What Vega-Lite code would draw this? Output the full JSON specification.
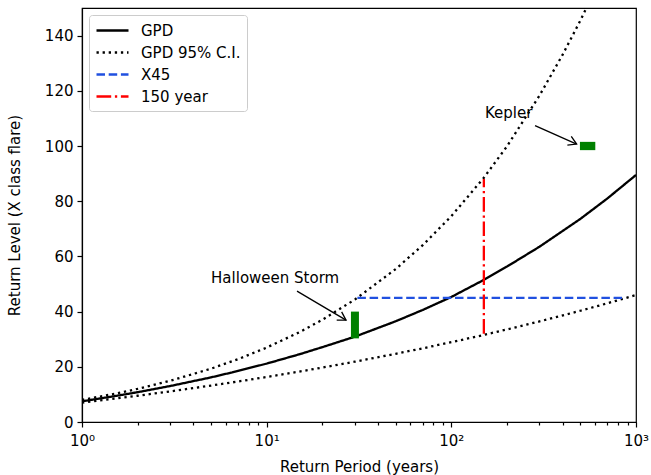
{
  "$schema": "https://vega.github.io/schema/vega-lite/v6.json",
  "width": 554,
  "height": 414,
  "autosize": {"type": "none"},
  "padding": {"left": 82, "top": 8, "right": 15, "bottom": 53},
  "config": {
    "font": "DejaVu Sans",
    "view": {"stroke": "black", "strokeWidth": 1.2},
    "axis": {"domainColor": "black", "tickColor": "black", "labelColor": "black", "titleColor": "black", "labelFont": "DejaVu Sans", "titleFont": "DejaVu Sans", "labelFontSize": 15, "titleFontSize": 15, "titleFontWeight": "normal", "grid": false, "domainWidth": 1.2, "tickWidth": 1.2}
  },
  "datasets": {
    "lines": [
      {"T": 1, "level": 7.5, "series": "GPD", "part": "gpd"},
      {"T": 1.5, "level": 9.36, "series": "GPD", "part": "gpd"},
      {"T": 2, "level": 10.8, "series": "GPD", "part": "gpd"},
      {"T": 3, "level": 13.03, "series": "GPD", "part": "gpd"},
      {"T": 5, "level": 16.17, "series": "GPD", "part": "gpd"},
      {"T": 7, "level": 18.49, "series": "GPD", "part": "gpd"},
      {"T": 10, "level": 21.16, "series": "GPD", "part": "gpd"},
      {"T": 15, "level": 24.51, "series": "GPD", "part": "gpd"},
      {"T": 20, "level": 27.11, "series": "GPD", "part": "gpd"},
      {"T": 30, "level": 30.9, "series": "GPD", "part": "gpd"},
      {"T": 50, "level": 36.5, "series": "GPD", "part": "gpd"},
      {"T": 70, "level": 40.6, "series": "GPD", "part": "gpd"},
      {"T": 100, "level": 45.3, "series": "GPD", "part": "gpd"},
      {"T": 150, "level": 51.5, "series": "GPD", "part": "gpd"},
      {"T": 200, "level": 56.3, "series": "GPD", "part": "gpd"},
      {"T": 300, "level": 63.5, "series": "GPD", "part": "gpd"},
      {"T": 500, "level": 73.6, "series": "GPD", "part": "gpd"},
      {"T": 700, "level": 81.0, "series": "GPD", "part": "gpd"},
      {"T": 1000, "level": 89.5, "series": "GPD", "part": "gpd"},
      {"T": 1, "level": 8, "series": "GPD 95% C.I.", "part": "upper"},
      {"T": 1.5, "level": 10.21, "series": "GPD 95% C.I.", "part": "upper"},
      {"T": 2, "level": 12.01, "series": "GPD 95% C.I.", "part": "upper"},
      {"T": 3, "level": 14.92, "series": "GPD 95% C.I.", "part": "upper"},
      {"T": 5, "level": 19.33, "series": "GPD 95% C.I.", "part": "upper"},
      {"T": 7, "level": 22.77, "series": "GPD 95% C.I.", "part": "upper"},
      {"T": 10, "level": 26.96, "series": "GPD 95% C.I.", "part": "upper"},
      {"T": 15, "level": 32.5, "series": "GPD 95% C.I.", "part": "upper"},
      {"T": 20, "level": 37.02, "series": "GPD 95% C.I.", "part": "upper"},
      {"T": 30, "level": 44.34, "series": "GPD 95% C.I.", "part": "upper"},
      {"T": 50, "level": 55.43, "series": "GPD 95% C.I.", "part": "upper"},
      {"T": 70, "level": 64.06, "series": "GPD 95% C.I.", "part": "upper"},
      {"T": 100, "level": 74.58, "series": "GPD 95% C.I.", "part": "upper"},
      {"T": 150, "level": 88.51, "series": "GPD 95% C.I.", "part": "upper"},
      {"T": 200, "level": 99.86, "series": "GPD 95% C.I.", "part": "upper"},
      {"T": 300, "level": 118.24, "series": "GPD 95% C.I.", "part": "upper"},
      {"T": 400, "level": 133.0, "series": "GPD 95% C.I.", "part": "upper"},
      {"T": 500, "level": 145.5, "series": "GPD 95% C.I.", "part": "upper"},
      {"T": 600, "level": 156.5, "series": "GPD 95% C.I.", "part": "upper"},
      {"T": 700, "level": 166.5, "series": "GPD 95% C.I.", "part": "upper"},
      {"T": 1, "level": 7.0, "series": "GPD 95% C.I.", "part": "lower"},
      {"T": 1.5, "level": 8.44, "series": "GPD 95% C.I.", "part": "lower"},
      {"T": 2, "level": 9.51, "series": "GPD 95% C.I.", "part": "lower"},
      {"T": 3, "level": 11.09, "series": "GPD 95% C.I.", "part": "lower"},
      {"T": 5, "level": 13.2, "series": "GPD 95% C.I.", "part": "lower"},
      {"T": 7, "level": 14.67, "series": "GPD 95% C.I.", "part": "lower"},
      {"T": 10, "level": 16.31, "series": "GPD 95% C.I.", "part": "lower"},
      {"T": 15, "level": 18.26, "series": "GPD 95% C.I.", "part": "lower"},
      {"T": 20, "level": 19.71, "series": "GPD 95% C.I.", "part": "lower"},
      {"T": 30, "level": 21.85, "series": "GPD 95% C.I.", "part": "lower"},
      {"T": 50, "level": 24.71, "series": "GPD 95% C.I.", "part": "lower"},
      {"T": 70, "level": 26.7, "series": "GPD 95% C.I.", "part": "lower"},
      {"T": 100, "level": 28.92, "series": "GPD 95% C.I.", "part": "lower"},
      {"T": 150, "level": 31.56, "series": "GPD 95% C.I.", "part": "lower"},
      {"T": 200, "level": 33.53, "series": "GPD 95% C.I.", "part": "lower"},
      {"T": 300, "level": 36.43, "series": "GPD 95% C.I.", "part": "lower"},
      {"T": 500, "level": 40.31, "series": "GPD 95% C.I.", "part": "lower"},
      {"T": 700, "level": 43.01, "series": "GPD 95% C.I.", "part": "lower"},
      {"T": 1000, "level": 46.01, "series": "GPD 95% C.I.", "part": "lower"},
      {"T": 31, "level": 45, "series": "X45", "part": "x45"},
      {"T": 840, "level": 45, "series": "X45", "part": "x45"},
      {"T": 150, "level": 32, "series": "150 year", "part": "y150"},
      {"T": 150.0001, "level": 88, "series": "150 year", "part": "y150"}
    ],
    "events": [
      {"name": "Halloween Storm", "T1": 28.6, "T2": 31.6, "lo": 30.3, "hi": 40},
      {"name": "Kepler", "T1": 497, "T2": 602, "lo": 98.5, "hi": 101.5}
    ],
    "arrows": [
      {"name": "Halloween Storm", "tx": 5.0, "ty": 52.1, "sx": 14.6, "sy": 47.4, "ex": 26.9, "ey": 36.9, "angle": 31},
      {"name": "Kepler", "tx": 152, "ty": 111.9, "sx": 284, "sy": 107.4, "ex": 477, "ey": 100.7, "angle": 24}
    ]
  },
  "layer": [
    {
      "data": {"name": "lines"},
      "mark": {"type": "line", "clip": true, "strokeWidth": 2.3, "strokeCap": "butt"},
      "encoding": {
        "x": {"field": "T", "type": "quantitative", "scale": {"type": "log", "domain": [1, 1000]},
          "axis": {"title": "Return Period (years)", "titlePadding": 11, "labelPadding": 6,
            "values": [1,2,3,4,5,6,7,8,9,10,20,30,40,50,60,70,80,90,100,200,300,400,500,600,700,800,900,1000],
            "labelExpr": "datum.value == 1 ? '10⁰' : datum.value == 10 ? '10¹' : datum.value == 100 ? '10²' : datum.value == 1000 ? '10³' : ''",
            "tickSize": {"condition": {"test": "indexof([1,10,100,1000], datum.value) >= 0", "value": 5}, "value": 3},
            "labelFlush": false, "labelOverlap": false}},
        "y": {"field": "level", "type": "quantitative", "scale": {"domain": [0, 150], "nice": false},
          "axis": {"title": "Return Level (X class flare)", "values": [0,20,40,60,80,100,120,140], "tickSize": 5, "labelPadding": 4, "titlePadding": 22}},
        "color": {"field": "series", "type": "nominal",
          "scale": {"domain": ["GPD", "GPD 95% C.I.", "X45", "150 year"], "range": ["black", "black", "#2050e0", "#ff0000"]},
          "legend": {"title": null, "orient": "none", "legendX": 7, "legendY": 7, "labelFontSize": 15, "labelFont": "DejaVu Sans", "labelColor": "black",
            "symbolType": "M-2,0H2", "symbolSize": 256, "symbolOffset": 8, "symbolStrokeWidth": 2.3, "strokeColor": "#cccccc", "fillColor": "white", "padding": 6, "cornerRadius": 3, "rowPadding": 4, "labelOffset": 19}},
        "strokeDash": {"field": "series", "type": "nominal",
          "scale": {"domain": ["GPD", "GPD 95% C.I.", "X45", "150 year"], "range": [[1, 0], [2.3, 3.8], [8.5, 3.7], [14.7, 3.7, 2.3, 3.7]]},
          "legend": {"title": null, "orient": "none", "legendX": 7, "legendY": 7}},
        "detail": {"field": "part"}
      }
    },
    {
      "data": {"name": "events"},
      "mark": {"type": "rect", "color": "#008000"},
      "encoding": {
        "x": {"field": "T1", "type": "quantitative"},
        "x2": {"field": "T2"},
        "y": {"field": "lo", "type": "quantitative"},
        "y2": {"field": "hi"}
      }
    },
    {
      "data": {"name": "arrows"},
      "mark": {"type": "rule", "color": "black", "strokeWidth": 1.3},
      "encoding": {
        "x": {"field": "sx", "type": "quantitative"},
        "y": {"field": "sy", "type": "quantitative"},
        "x2": {"field": "ex"},
        "y2": {"field": "ey"}
      }
    },
    {
      "data": {"name": "arrows"},
      "mark": {"type": "point", "shape": "M-1,-0.6L0,0L-1,0.6", "filled": false, "stroke": "black", "strokeWidth": 1.3, "size": 256, "opacity": 1},
      "encoding": {
        "x": {"field": "ex", "type": "quantitative"},
        "y": {"field": "ey", "type": "quantitative"},
        "angle": {"field": "angle", "type": "quantitative", "scale": null}
      }
    },
    {
      "data": {"name": "arrows"},
      "mark": {"type": "text", "align": "left", "baseline": "middle", "fontSize": 15, "font": "DejaVu Sans", "color": "black"},
      "encoding": {
        "x": {"field": "tx", "type": "quantitative"},
        "y": {"field": "ty", "type": "quantitative"},
        "text": {"field": "name"}
      }
    }
  ]
}
